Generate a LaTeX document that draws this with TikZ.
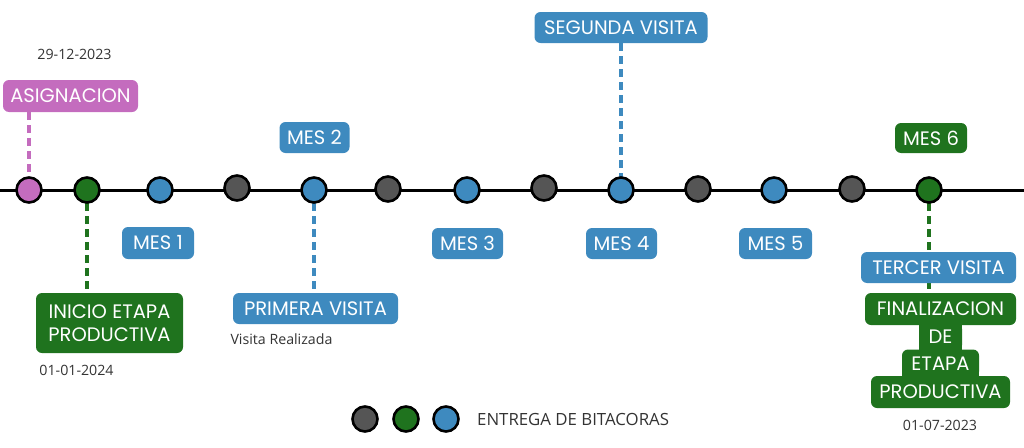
\documentclass[tikz,border=0pt]{standalone}
\usepackage{fontspec}
\setmainfont{Open Sans}
\newfontfamily\labelfont{Poppins}
\usetikzlibrary{scopes}

\definecolor{pinkc}{HTML}{C46CBE}
\definecolor{greenc}{HTML}{1F731E}
\definecolor{bluec}{HTML}{3E8ABF}
\definecolor{greyc}{HTML}{555555}
\definecolor{textc}{HTML}{333333}

\tikzset{
  dot/.style={circle,draw=black,line width=2.6pt,minimum size=25pt,inner sep=0pt},
  tag/.style={rounded corners=6pt,text=white,inner sep=0pt,
    font=\labelfont\fontsize{19.5}{22}\selectfont},
  note/.style={text=textc,inner sep=0pt,font=\fontsize{14.2}{17}\selectfont},
  link/.style={line width=3.5pt,dash pattern=on 8pt off 5pt}
}

\begin{document}
\begin{tikzpicture}[x=1pt,y=-1pt]
\useasboundingbox (0,0) rectangle (1024,447);

% labels
\begin{scope}[every node/.style={tag}]
    \node[fill=pinkc,minimum width=135pt,minimum height=32pt] (asig) at (70.5,96) {ASIGNACION};
    \node[fill=bluec,minimum width=70pt,minimum height=31pt] (mes2) at (314.5,137.5) {MES 2};
    \node[fill=bluec,minimum width=173pt,minimum height=31pt] (segunda) at (621,27.5) {SEGUNDA VISITA};
    \node[fill=greenc,minimum width=72pt,minimum height=30pt] (mes6) at (931,138) {MES 6};
    \node[fill=bluec,minimum width=72pt,minimum height=32pt] (mes1) at (158,243) {MES 1};
    \node[fill=bluec,minimum width=71pt,minimum height=31pt] (mes3) at (467.5,243.5) {MES 3};
    \node[fill=bluec,minimum width=71pt,minimum height=31pt] (mes4) at (621.5,243.5) {MES 4};
    \node[fill=bluec,minimum width=73pt,minimum height=31pt] (mes5) at (775.5,243.5) {MES 5};
    \node[fill=greenc,minimum width=147pt,minimum height=60pt,align=center] (inicio) at (109.5,323) {INICIO ETAPA\\[1pt]PRODUCTIVA};
    \node[fill=bluec,minimum width=165pt,minimum height=31pt] (primera) at (315.5,308.5) {PRIMERA VISITA};
\end{scope}

% dates and notes
\node[note] (fecha1) at (74.5,54) {29-12-2023};
\node[note] (fecha2) at (76.5,370) {01-01-2024};
\node[note] (realizada) at (281.5,339) {Visita Realizada};
\node[note] (fecha3) at (940,425) {01-07-2023};

% timeline
\coordinate (lstart) at (0,190);
\coordinate (lend) at (1024,190);

% hitos
\coordinate (h0) at (29,190);
\coordinate (h1) at (87,190);
\coordinate (h4) at (314,190);
\coordinate (h8) at (621,190);
\coordinate (h12) at (929,190);
\coordinate (finTop) at (929,296);

\begin{scope}[every path/.style={link}]
    \draw[pinkc] (asig.south -| h0) -- (h0);
    \draw[greenc] (h1) -- (inicio.north -| h1);
    \draw[bluec] (h4) -- (primera.north -| h4);
    \draw[bluec] (segunda.south -| h8) -- (h8);
    \draw[greenc] (h12) -- (finTop);
\end{scope}

\draw[line width=3pt] (lstart) -- (lend);

\begin{scope}[every node/.style={dot}]
    \node[fill=pinkc] (c0) at (29,190) {};
    \node[fill=greenc] (c1) at (87,190) {};
    \node[fill=bluec] (c2) at (160,190) {};
    \node[fill=greyc] (c3) at (237,188) {};
    \node[fill=bluec] (c4) at (314,190) {};
    \node[fill=greyc] (c5) at (388,189) {};
    \node[fill=bluec] (c6) at (467,190) {};
    \node[fill=greyc] (c7) at (544,188) {};
    \node[fill=bluec] (c8) at (621,190) {};
    \node[fill=greyc] (c9) at (698,189) {};
    \node[fill=bluec] (c10) at (774,190) {};
    \node[fill=greyc] (c11) at (852,189) {};
    \node[fill=greenc] (c12) at (929,190) {};
    % legend
    \node[fill=greyc] (lg1) at (365,419) {};
    \node[fill=greenc] (lg2) at (406,419) {};
    \node[fill=bluec] (lg3) at (446,419) {};
\end{scope}
\node[note,anchor=west,font=\fontsize{16.8}{20}\selectfont] (legend) at (477,419) {ENTREGA DE BITACORAS};

% end of stage
\fill[greenc] (919,318) rectangle (962,356);
\fill[greenc] (902,370) rectangle (979,385);
\begin{scope}[every node/.style={tag}]
    \node[fill=bluec,minimum width=155pt,minimum height=31pt] (tercer) at (938.5,267.5) {TERCER VISITA};
    \node[fill=greenc,minimum width=151pt,minimum height=32pt] (fin1) at (940.5,309) {FINALIZACION};
    \node[fill=greenc,minimum width=43pt,minimum height=28pt] (fin2) at (940.5,337) {DE};
    \node[fill=greenc,minimum width=77pt,minimum height=28pt] (fin3) at (940.5,363.5) {ETAPA};
    \node[fill=greenc,minimum width=139pt,minimum height=32pt] (fin4) at (940.5,392) {PRODUCTIVA};
\end{scope}
\end{tikzpicture}
\end{document}
